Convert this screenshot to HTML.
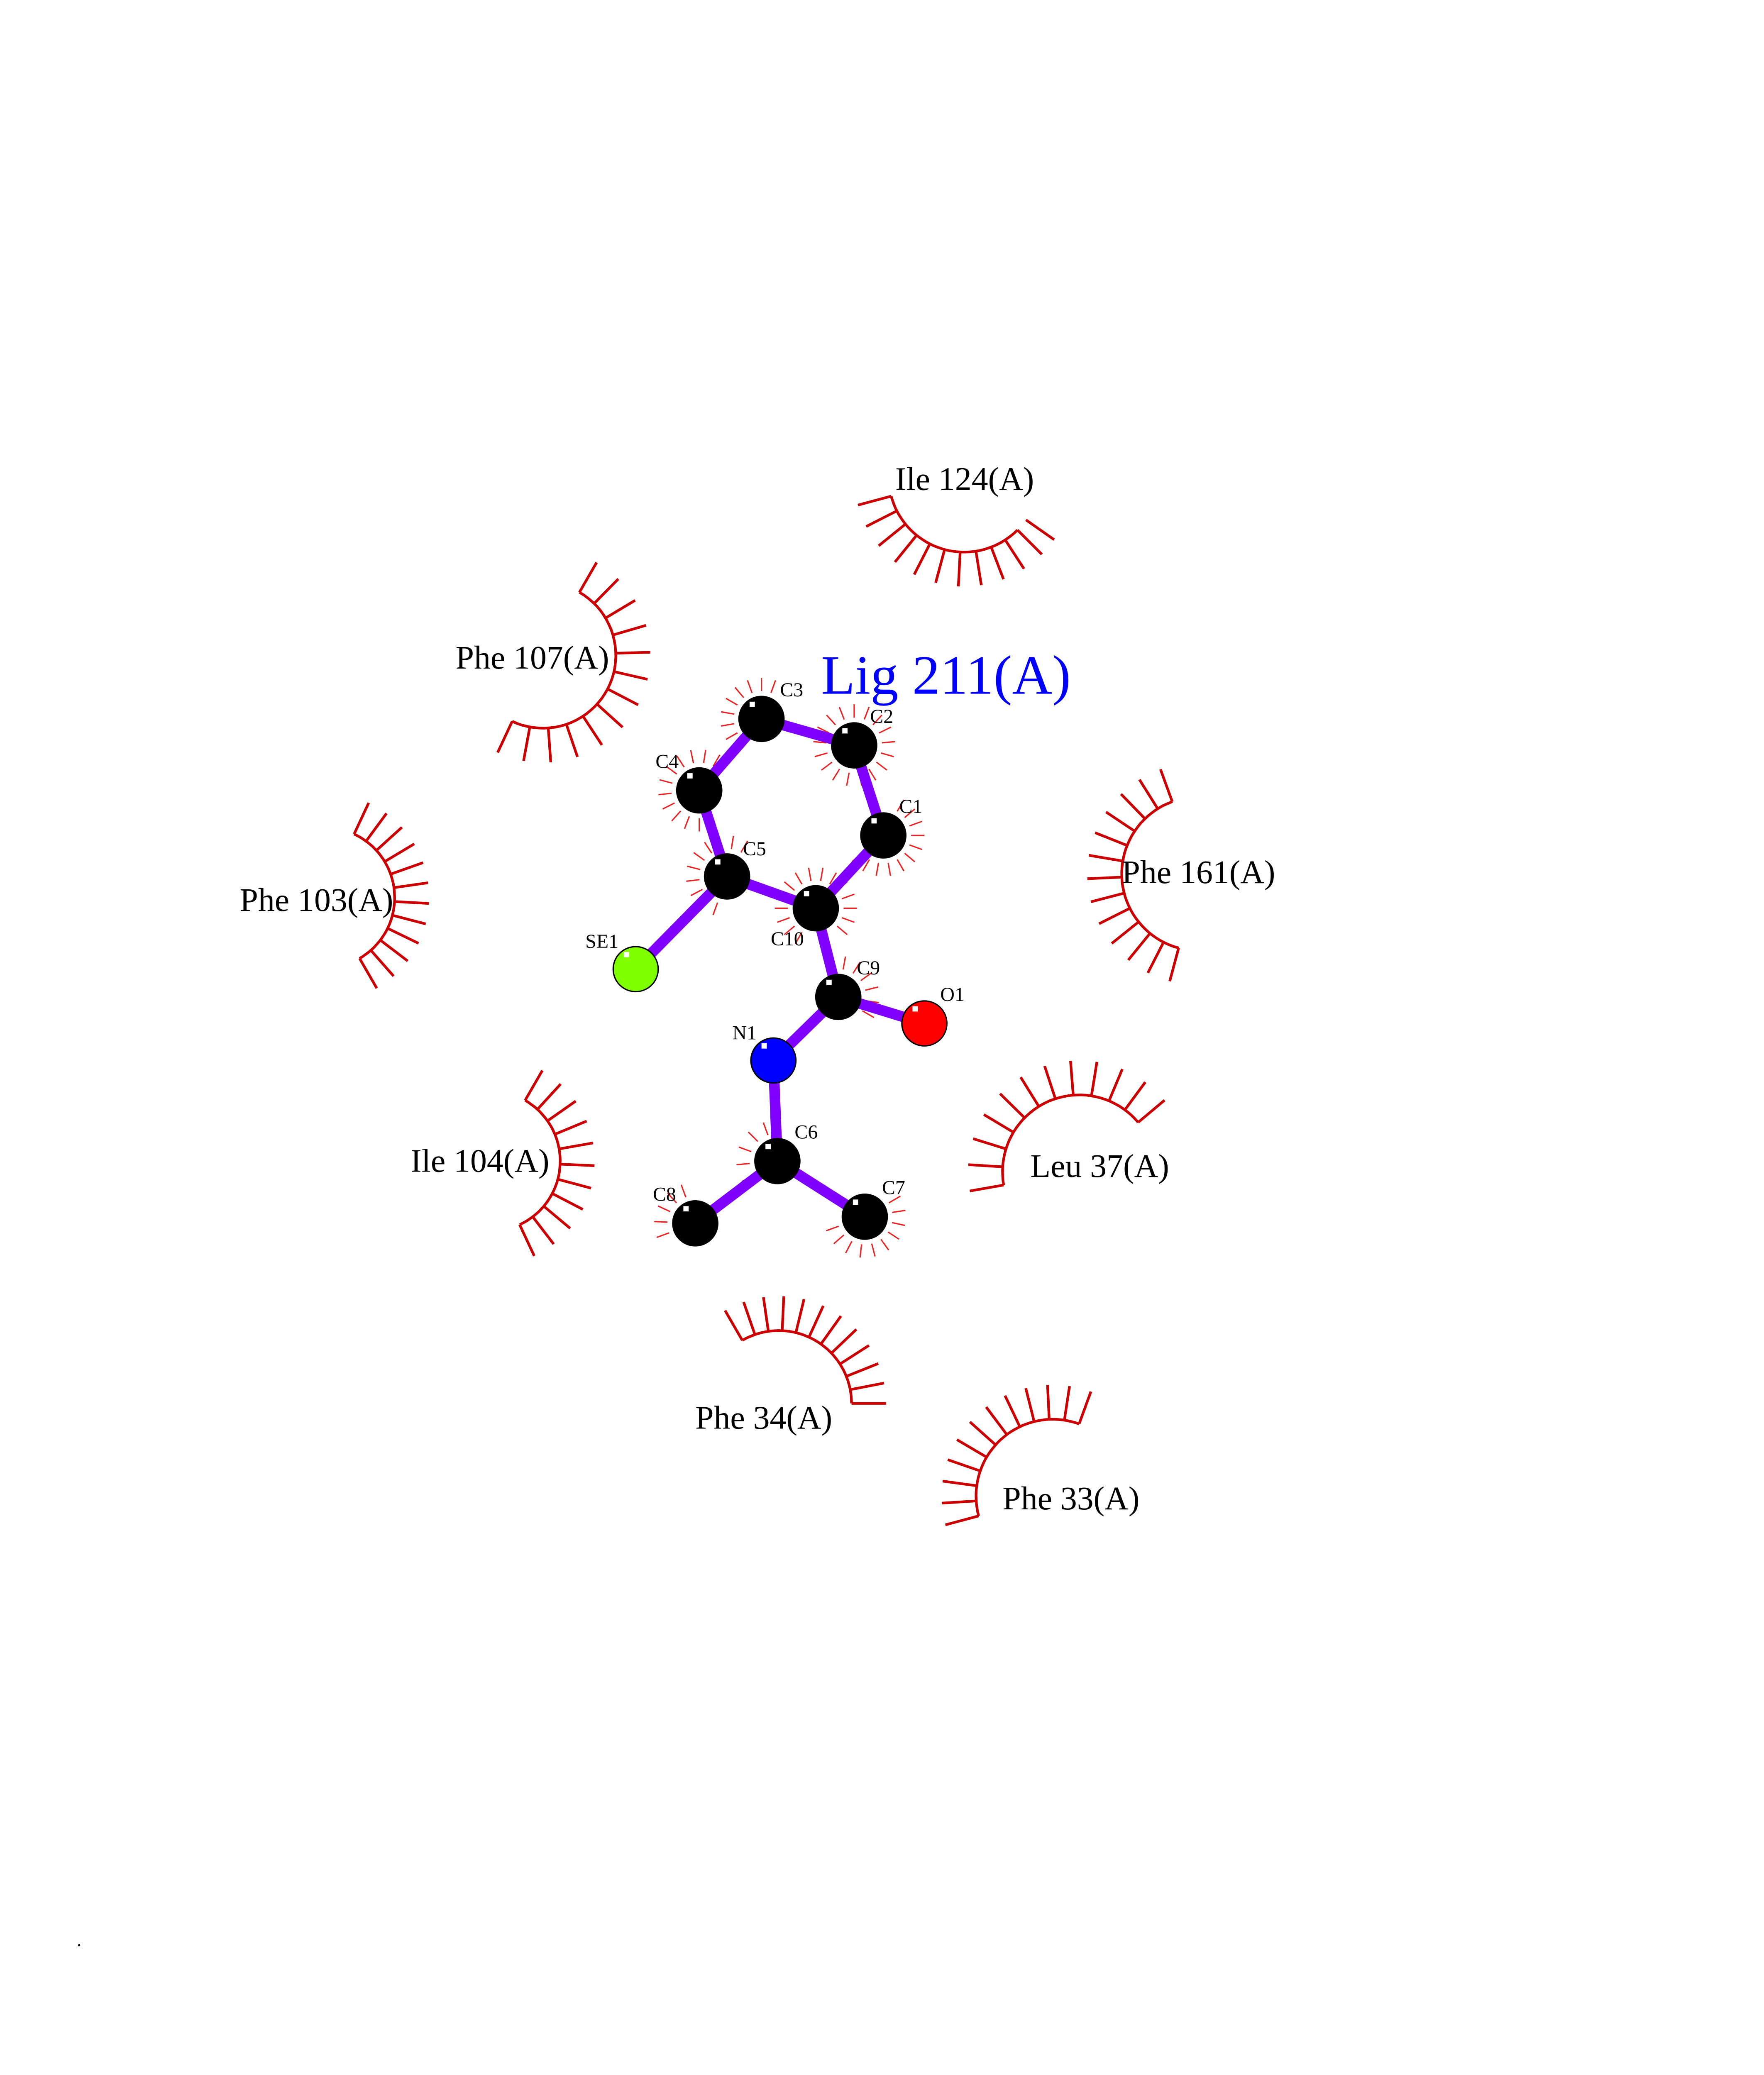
<!DOCTYPE html>
<html><head><meta charset="utf-8"><style>
html,body{margin:0;padding:0;background:#fff;width:4250px;height:5500px;overflow:hidden;}
svg{display:block;position:absolute;left:0;top:0;}
</style></head><body>
<svg id="s" xmlns="http://www.w3.org/2000/svg" width="4250" height="5500" viewBox="0 0 1332 1724" preserveAspectRatio="none" font-family="'Liberation Serif', serif">
<rect width="1332" height="1724" fill="#fff"/>
<g id="hyd" stroke="#cc0000" fill="none" stroke-width="2"></g>
<g id="ahyd" stroke="#ee2222" fill="none" stroke-width="1"></g>
<g stroke="#8000ff" stroke-width="8" stroke-linecap="round">
<line x1="575" y1="543" x2="645" y2="563"/>
<line x1="645" y1="563" x2="667" y2="631"/>
<line x1="667" y1="631" x2="616" y2="686"/>
<line x1="616" y1="686" x2="549" y2="662"/>
<line x1="549" y1="662" x2="528" y2="597"/>
<line x1="528" y1="597" x2="575" y2="543"/>
<line x1="549" y1="662" x2="480" y2="732"/>
<line x1="616" y1="686" x2="633" y2="753"/>
<line x1="633" y1="753" x2="698" y2="773"/>
<line x1="633" y1="753" x2="584" y2="801"/>
<line x1="584" y1="801" x2="587" y2="877"/>
<line x1="587" y1="877" x2="525" y2="924"/>
<line x1="587" y1="877" x2="653" y2="919"/>
</g>
<g id="atoms" stroke="#000" stroke-width="1"></g>
<g font-size="15" fill="#000">
<text x="589" y="526">C3</text><text x="657" y="546">C2</text><text x="679" y="614">C1</text>
<text x="561" y="646">C5</text><text x="495" y="580">C4</text><text x="582" y="714">C10</text>
<text x="442" y="716">SE1</text><text x="647" y="736">C9</text><text x="710" y="756">O1</text>
<text x="553" y="785">N1</text><text x="600" y="860">C6</text><text x="493" y="907">C8</text><text x="666" y="902">C7</text>
</g>
<text x="620" y="524" font-size="42" fill="#0000ff">Lig 211(A)</text>
<g font-size="25" fill="#000">
<text x="676" y="370">Ile 124(A)</text>
<text x="344" y="505">Phe 107(A)</text>
<text x="181" y="688">Phe 103(A)</text>
<text x="847" y="667">Phe 161(A)</text>
<text x="310" y="885">Ile 104(A)</text>
<text x="778" y="889">Leu 37(A)</text>
<text x="525" y="1079">Phe 34(A)</text>
<text x="757" y="1140">Phe 33(A)</text>
</g>
<text x="58" y="1470" font-size="14">.</text>
</svg>
<script>
var NS="http://www.w3.org/2000/svg";
function el(p,t,a){var e=document.createElementNS(NS,t);for(var k in a)e.setAttribute(k,a[k]);p.appendChild(e);return e;}
var hyd=document.getElementById('hyd');
function arc(cx,cy,r,a1,a2,n,len,extra){
  var pts=[];var N=40;
  for(var i=0;i<=N;i++){var a=(a1+(a2-a1)*i/N)*Math.PI/180;pts.push((cx+r*Math.cos(a)).toFixed(1)+","+(cy+r*Math.sin(a)).toFixed(1));}
  el(hyd,'polyline',{points:pts.join(' ')});
  var list=[];for(var i=0;i<n;i++)list.push(a1+(a2-a1)*i/(n-1));
  if(extra)list=list.concat(extra);
  list.forEach(function(d){var a=d*Math.PI/180;
    el(hyd,'line',{x1:cx+r*Math.cos(a),y1:cy+r*Math.sin(a),x2:cx+(r+len)*Math.cos(a),y2:cy+(r+len)*Math.sin(a)});});
}
arc(728,360,57,165,45,11,26,[35]);
arc(410,495,55,-60,115,13,26);
arc(245,678,53,-65,60,12,26);
arc(905,660,58,250,105,13,26);
arc(370,877,53,-60,65,11,26);
arc(815,885,58,170,320,12,26);
arc(588,1060,55,240,360,12,26);
arc(795,1130,58,165,290,12,26);
var ah=document.getElementById('ahyd');
function ring(cx,cy,a1,a2,n){for(var i=0;i<n;i++){var a=(a1+(a2-a1)*i/(n-1))*Math.PI/180;
  el(ah,'line',{x1:cx+21*Math.cos(a),y1:cy+21*Math.sin(a),x2:cx+31*Math.cos(a),y2:cy+31*Math.sin(a)});}}
ring(575,543,130,290,9);ring(645,563,-90,270,18);ring(667,631,-60,140,11);
ring(616,686,120,400,15);ring(549,662,110,300,10);ring(528,597,90,300,11);
ring(633,753,-80,30,6);ring(587,877,150,250,5);ring(525,924,160,250,5);ring(653,919,-30,160,10);
var at=document.getElementById('atoms');
[[575,543,'#000'],[645,563,'#000'],[667,631,'#000'],[616,686,'#000'],[549,662,'#000'],[528,597,'#000'],
 [480,732,'#7fff00'],[633,753,'#000'],[698,773,'#ff0000'],[584,801,'#0000ff'],[587,877,'#000'],[525,924,'#000'],[653,919,'#000']]
.forEach(function(p){el(at,'circle',{cx:p[0],cy:p[1],r:17,fill:p[2]});
 el(at,'rect',{x:p[0]-9,y:p[1]-13,width:4,height:4,fill:'#fff',stroke:'none'});});
</script>
</body></html>
